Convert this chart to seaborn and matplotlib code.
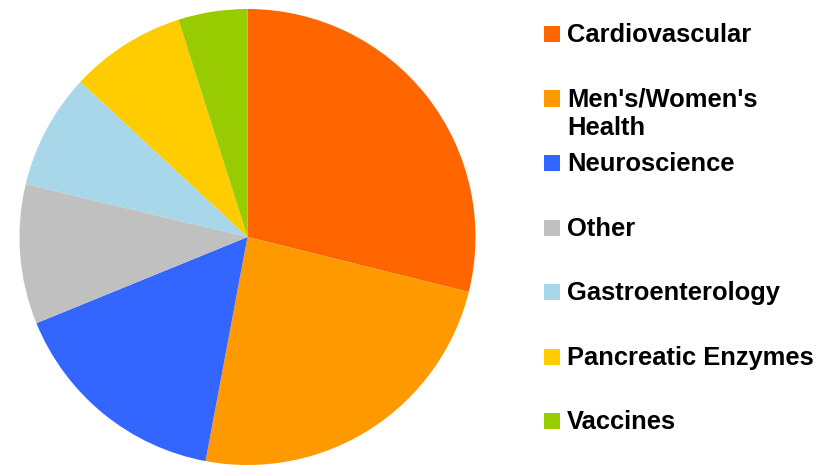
import matplotlib
matplotlib.use("Agg")
import matplotlib.pyplot as plt
import seaborn as sns
from matplotlib.patches import Rectangle

# Data
categories = [
    "Cardiovascular",
    "Men's/Women's\nHealth",
    "Neuroscience",
    "Other",
    "Gastroenterology",
    "Pancreatic Enzymes",
    "Vaccines"
]
shares = [28.9, 24.1, 15.9, 9.9, 8.2, 8.2, 4.9]
colors = [
    "#FF6600",
    "#FF9900",
    "#3366FF",
    "#C0C0C0",
    "#A9D7EA",
    "#FFCC00",
    "#99CC00"
]

# Style
sns.set_theme(style="white")
plt.rcParams["font.family"] = ["Liberation Sans", "DejaVu Sans"]

W, H = 828, 466
fig = plt.figure(figsize=(W / 100, H / 100), dpi=100)

# Pie axes (square, in pixels)
cx, cy, r = 247.5, 237, 228
ax = fig.add_axes([(cx - r) / W, (H - cy - r) / H, 2 * r / W, 2 * r / H])
ax.pie(
    shares,
    colors=colors,
    startangle=90,
    counterclock=False,
    radius=1,
    wedgeprops={"linewidth": 0}
)
ax.set_xlim(-1, 1)
ax.set_ylim(-1, 1)
ax.set_aspect("equal")
ax.axis("off")

# Legend (drawn by hand so the swatch sits on the first text line)
for i, (label, color) in enumerate(zip(categories, colors)):
    base = 42 + 64.5 * i
    fig.patches.append(
        Rectangle(
            (544 / W, (H - base) / H),
            16 / W,
            16 / H,
            transform=fig.transFigure,
            facecolor=color,
            edgecolor="none"
        )
    )
    for j, line in enumerate(label.split("\n")):
        fig.text(
            567 / W,
            (H - base - 28.3 * j) / H,
            line,
            ha="left",
            va="baseline",
            fontsize=18.4,
            fontweight="bold",
            color="black"
        )

fig.savefig("out.png", dpi=100)
